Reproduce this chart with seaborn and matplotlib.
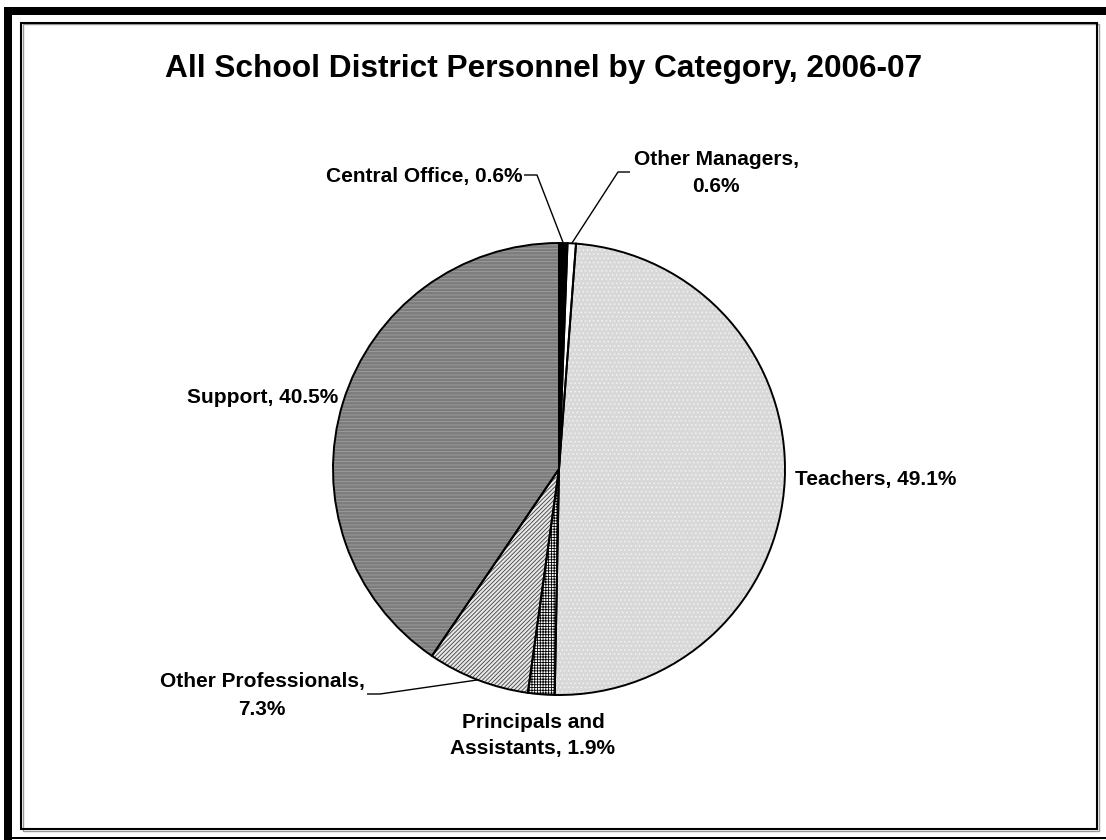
import textwrap

import matplotlib
matplotlib.use("Agg")
import matplotlib.pyplot as plt
from matplotlib.patches import Rectangle
import numpy as np
import seaborn as sns

# Personnel shares, listed clockwise from 12 o'clock
categories = ["Central Office", "Other Managers", "Teachers",
              "Principals and Assistants", "Other Professionals", "Support"]
shares = [0.6, 0.6, 49.1, 1.9, 7.3, 40.5]
title = "All School District Personnel by Category, 2006-07"

sns.set_theme(style="white")
plt.rcParams["font.family"] = ["Liberation Sans", "DejaVu Sans"]
plt.rcParams["hatch.linewidth"] = 0.6

W, H = 1106, 840
fig = plt.figure(figsize=(W / 100, H / 100), dpi=100)
ax = fig.add_axes([0, 0, 1, 1])


def Y(y):
    """Convert a top-down pixel row to the axes' bottom-up units."""
    return H - y


# Pie geometry (pixel units)
cx, cy, r = 559, Y(469), 226

fills = ["black", "white", "#d8d8d8", "white", "#e8e8e8", "#7c7c7c"]
hatch_colors = ["black", "white", "#f3f3f3", "black", "#404040", "#a0a0a0"]
hatches = ["", "", "....", "++++++", "////////", "-----"]

# Patterned fill layer
wedges, _ = ax.pie(shares, startangle=90, counterclock=False,
                   center=(cx, cy), radius=r, colors=fills, hatch=hatches,
                   wedgeprops=dict(linewidth=0))
for w, hc in zip(wedges, hatch_colors):
    w.set_edgecolor(hc)
    w.set_linewidth(0)

# Black outline layer
ax.pie(shares, startangle=90, counterclock=False, center=(cx, cy), radius=r,
       colors=["none"] * len(shares),
       wedgeprops=dict(edgecolor="black", linewidth=1.4, fill=False))

ax.set_xlim(0, W)
ax.set_ylim(0, H)
ax.set_aspect("equal")
ax.axis("off")

# Label layout: (x, first baseline row, alignment, wrap width, line step)
label_layout = [
    (522, 182, "right", None, 0),
    (716, 165, "center", 16, 27),
    (795, 485, "left", None, 0),
    (533, 728, "center", 16, 26),
    (262, 687, "center", 20, 28),
    (338, 403, "right", None, 0),
]
for cat, val, (x, yb, ha, wrap, step) in zip(categories, shares, label_layout):
    text = f"{cat}, {val}%"
    lines = textwrap.wrap(text, wrap) if wrap else [text]
    for i, line in enumerate(lines):
        ax.text(x, Y(yb + i * step), line, ha=ha, va="baseline",
                fontsize=15, fontweight="bold", color="black")

# Leader lines from label to the wedge's outer mid-point
leaders = {
    0: [(524, 175), (537, 175)],
    1: [(630, 172), (618, 172)],
    4: [(367, 694), (380, 694)],
}
for idx, pts in leaders.items():
    w = wedges[idx]
    mid = np.deg2rad((w.theta1 + w.theta2) / 2)
    ex, ey = cx + r * np.cos(mid), cy + r * np.sin(mid)
    xs = [p[0] for p in pts] + [ex]
    ys = [Y(p[1]) for p in pts] + [ey]
    ax.plot(xs, ys, color="black", lw=1.0, solid_capstyle="butt")

# Title
ax.text(544, Y(77), title, ha="center", va="baseline",
        fontsize=22.8, fontweight="bold", color="black")

# Page frame: thick outer border and thin inner box
ax.add_patch(Rectangle((4, Y(15)), W - 4, 8, facecolor="black",
                       edgecolor="none", clip_on=False))
ax.add_patch(Rectangle((4, 0), 8, Y(7), facecolor="black",
                       edgecolor="none", clip_on=False))
ax.add_patch(Rectangle((12, Y(839)), W - 12, 2.5, facecolor="black",
                       edgecolor="none", clip_on=False))
ax.add_patch(Rectangle((22.5, Y(830.5)), 1076, 807, fill=False,
                       edgecolor="#9a9a9a", lw=1.0, clip_on=False))
ax.add_patch(Rectangle((21, Y(829)), 1076, 806, fill=False,
                       edgecolor="black", lw=1.5, clip_on=False))

fig.savefig("out.png", dpi=100, facecolor="white")
